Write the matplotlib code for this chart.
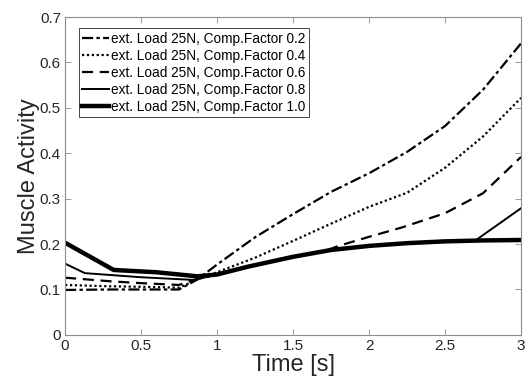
import matplotlib
matplotlib.use("Agg")
import matplotlib.pyplot as plt

# Muscle activity vs. time for ext. load 25N, different compensation factors
t_02 = [0, 0.3, 0.5, 0.75, 0.87, 1.0, 1.25, 1.5, 1.75, 2.0, 2.25, 2.5, 2.75, 3.0]
a_02 = [0.099, 0.100, 0.100, 0.100, 0.122, 0.155, 0.215, 0.266, 0.315, 0.356, 0.403, 0.460, 0.540, 0.642]

t_04 = [0, 0.3, 0.5, 0.75, 0.87, 1.0, 1.25, 1.5, 1.75, 2.0, 2.25, 2.5, 2.75, 3.0]
a_04 = [0.110, 0.107, 0.106, 0.104, 0.122, 0.138, 0.170, 0.207, 0.245, 0.282, 0.313, 0.368, 0.437, 0.522]

t_06 = [0, 0.3, 0.5, 0.75, 0.87, 1.0, 1.2, 1.5, 1.72, 1.8, 2.0, 2.22, 2.5, 2.75, 3.0]
a_06 = [0.126, 0.118, 0.114, 0.110, 0.124, 0.133, 0.150, 0.172, 0.186, 0.196, 0.216, 0.237, 0.268, 0.312, 0.392]

t_08 = [0, 0.13, 0.5, 0.85, 1.0, 1.2, 1.5, 1.75, 2.0, 2.25, 2.5, 2.7, 3.0]
a_08 = [0.157, 0.136, 0.127, 0.121, 0.133, 0.150, 0.172, 0.187, 0.196, 0.202, 0.206, 0.208, 0.279]

t_10 = [0, 0.32, 0.6, 0.87, 1.0, 1.2, 1.5, 1.75, 2.0, 2.25, 2.5, 2.75, 3.0]
a_10 = [0.203, 0.143, 0.138, 0.129, 0.133, 0.150, 0.172, 0.187, 0.196, 0.202, 0.206, 0.208, 0.209]

labels = ['ext. Load 25N, Comp.Factor 0.2',
          'ext. Load 25N, Comp.Factor 0.4',
          'ext. Load 25N, Comp.Factor 0.6',
          'ext. Load 25N, Comp.Factor 0.8',
          'ext. Load 25N, Comp.Factor 1.0']

plt.rcParams['font.family'] = ['Liberation Sans', 'DejaVu Sans']

fig = plt.figure(figsize=(5.29, 3.78), dpi=100)
ax = fig.add_axes([0.123, 0.114, 0.862, 0.841])

ax.plot(t_02, a_02, color='black', linestyle=(0, (5, 1.5, 1.5, 1.5)), linewidth=1.6, label=labels[0])
ax.plot(t_04, a_04, color='black', linestyle=(0, (1, 1.2)), linewidth=1.6, label=labels[1])
ax.plot(t_06, a_06, color='black', linestyle=(0, (5, 3)), linewidth=1.6, label=labels[2])
ax.plot(t_08, a_08, color='black', linestyle='-', linewidth=1.4, label=labels[3])
ax.plot(t_10, a_10, color='black', linestyle='-', linewidth=3.2, label=labels[4])

ax.set_xlim(0, 3)
ax.set_ylim(0, 0.7)
ax.set_xticks([0, 0.5, 1, 1.5, 2, 2.5, 3])
ax.set_xticklabels(['0', '0.5', '1', '1.5', '2', '2.5', '3'])
ax.set_yticks([0, 0.1, 0.2, 0.3, 0.4, 0.5, 0.6, 0.7])
ax.set_yticklabels(['0', '0.1', '0.2', '0.3', '0.4', '0.5', '0.6', '0.7'])

for s in ax.spines.values():
    s.set_color('#8c8c8c')
    s.set_linewidth(0.8)
ax.tick_params(direction='in', length=4, width=0.6, color='#8c8c8c',
               labelsize=11, labelcolor='#262626', top=True, right=True, pad=3)

ax.set_xlabel('Time [s]', fontsize=17, color='#262626', labelpad=1)
ax.set_ylabel('Muscle Activity', fontsize=17, color='#262626', labelpad=0)

leg = ax.legend(loc='upper left', bbox_to_anchor=(0.03, 0.965), fontsize=9.8,
                handlelength=2.0, handletextpad=0.1, borderpad=0.25,
                labelspacing=0.22, fancybox=False, framealpha=1,
                borderaxespad=0.0)
leg.get_frame().set_edgecolor('#262626')
leg.get_frame().set_linewidth(0.6)

fig.savefig('out.png', dpi=100)
